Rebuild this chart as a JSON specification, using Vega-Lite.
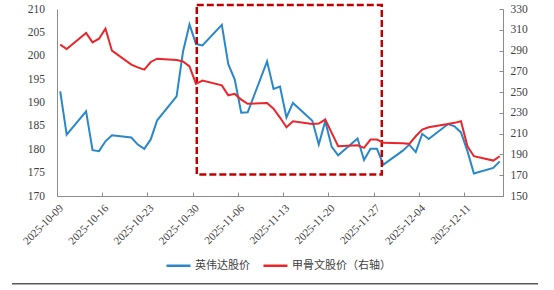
{
  "$schema": "https://vega.github.io/schema/vega-lite/v6.json",
  "width": 446,
  "height": 187,
  "autosize": {"type": "none"},
  "padding": {"left": 57, "top": 9, "right": 51, "bottom": 94},
  "config": {
    "view": {"stroke": null},
    "font": "Liberation Serif",
    "axis": {"grid": false, "domainColor": "#8c8c8c", "tickColor": "#8c8c8c", "labelColor": "#404040", "labelFont": "Liberation Serif", "labelFontSize": 11.5, "title": null, "labelOverlap": false}
  },
  "datasets": {
    "prices": [
      {"date": "2025-10-09", "nvda": 192.4, "orcl": 295.7},
      {"date": "2025-10-10", "nvda": 183.1, "orcl": 291.5},
      {"date": "2025-10-13", "nvda": 188.1, "orcl": 306.9},
      {"date": "2025-10-14", "nvda": 179.8, "orcl": 297.9},
      {"date": "2025-10-15", "nvda": 179.6, "orcl": 301.4},
      {"date": "2025-10-16", "nvda": 181.7, "orcl": 311.1},
      {"date": "2025-10-17", "nvda": 183.0, "orcl": 289.9},
      {"date": "2025-10-20", "nvda": 182.5, "orcl": 276.5},
      {"date": "2025-10-21", "nvda": 181.0, "orcl": 273.8},
      {"date": "2025-10-22", "nvda": 180.1, "orcl": 271.6},
      {"date": "2025-10-23", "nvda": 182.1, "orcl": 279.0},
      {"date": "2025-10-24", "nvda": 186.2, "orcl": 282.2},
      {"date": "2025-10-27", "nvda": 191.3, "orcl": 280.8},
      {"date": "2025-10-28", "nvda": 200.9, "orcl": 279.5},
      {"date": "2025-10-29", "nvda": 206.7, "orcl": 274.8},
      {"date": "2025-10-30", "nvda": 202.5, "orcl": 257.9},
      {"date": "2025-10-31", "nvda": 202.2, "orcl": 261.1},
      {"date": "2025-11-03", "nvda": 206.6, "orcl": 256.5},
      {"date": "2025-11-04", "nvda": 198.2, "orcl": 246.9},
      {"date": "2025-11-05", "nvda": 194.9, "orcl": 248.3},
      {"date": "2025-11-06", "nvda": 187.8, "orcl": 242.8},
      {"date": "2025-11-07", "nvda": 187.9, "orcl": 238.7},
      {"date": "2025-11-10", "nvda": 198.8, "orcl": 239.6},
      {"date": "2025-11-11", "nvda": 192.9, "orcl": 234.1},
      {"date": "2025-11-12", "nvda": 193.4, "orcl": 225.5},
      {"date": "2025-11-13", "nvda": 186.8, "orcl": 216.2},
      {"date": "2025-11-14", "nvda": 189.9, "orcl": 221.9},
      {"date": "2025-11-17", "nvda": 186.1, "orcl": 219.4},
      {"date": "2025-11-18", "nvda": 181.0, "orcl": 219.7},
      {"date": "2025-11-19", "nvda": 186.0, "orcl": 223.6},
      {"date": "2025-11-20", "nvda": 180.5, "orcl": 210.8},
      {"date": "2025-11-21", "nvda": 178.7, "orcl": 197.9},
      {"date": "2025-11-24", "nvda": 182.3, "orcl": 198.8},
      {"date": "2025-11-25", "nvda": 177.7, "orcl": 196.3},
      {"date": "2025-11-26", "nvda": 180.1, "orcl": 204.3},
      {"date": "2025-11-27", "nvda": 180.1, "orcl": 204.3},
      {"date": "2025-11-28", "nvda": 176.7, "orcl": 201.2},
      {"date": "2025-12-01", "nvda": 179.7, "orcl": 200.8},
      {"date": "2025-12-02", "nvda": 181.0, "orcl": 200.2},
      {"date": "2025-12-03", "nvda": 179.4, "orcl": 207.5},
      {"date": "2025-12-04", "nvda": 183.3, "orcl": 213.9},
      {"date": "2025-12-05", "nvda": 182.2, "orcl": 216.2},
      {"date": "2025-12-08", "nvda": 185.4, "orcl": 219.4},
      {"date": "2025-12-09", "nvda": 184.9, "orcl": 220.4},
      {"date": "2025-12-10", "nvda": 183.6, "orcl": 221.9},
      {"date": "2025-12-11", "nvda": 179.6, "orcl": 197.9},
      {"date": "2025-12-12", "nvda": 174.8, "orcl": 188.3},
      {"date": "2025-12-15", "nvda": 176.0, "orcl": 184.1},
      {"date": "2025-12-16", "nvda": 177.4, "orcl": 188.3}
    ],
    "box": [{"start": "2025-10-30T15:00:00Z", "end": "2025-11-28T06:00:00Z", "top": 210.86, "bottom": 174.6}],
    "sep": [{"from": "2025-10-02T01:00:00Z", "to": "2025-12-22T10:00:00Z", "level": 151.24}]
  },
  "layer": [
    {
      "layer": [
        {
          "data": {"name": "prices"},
          "mark": {"type": "line", "strokeWidth": 2},
          "encoding": {
            "x": {
              "field": "date", "type": "temporal", "timeUnit": "utcyearmonthdate", "bandPosition": 0.5,
              "scale": {"type": "utc", "domain": [{"year": 2025, "month": 10, "date": 9, "utc": true}, {"year": 2025, "month": 12, "date": 17, "utc": true}]},
              "axis": {
                "values": [
                  {"year": 2025, "month": 10, "date": 9, "utc": true},
                  {"year": 2025, "month": 10, "date": 16, "utc": true},
                  {"year": 2025, "month": 10, "date": 23, "utc": true},
                  {"year": 2025, "month": 10, "date": 30, "utc": true},
                  {"year": 2025, "month": 11, "date": 6, "utc": true},
                  {"year": 2025, "month": 11, "date": 13, "utc": true},
                  {"year": 2025, "month": 11, "date": 20, "utc": true},
                  {"year": 2025, "month": 11, "date": 27, "utc": true},
                  {"year": 2025, "month": 12, "date": 4, "utc": true},
                  {"year": 2025, "month": 12, "date": 11, "utc": true}
                ],
                "labelExpr": "utcFormat(datum.value, '%Y-%m-%d')", "labelAngle": -45, "labelOverlap": false,
                "labelFont": "Liberation Serif", "tickSize": -4, "labelPadding": 10, "labelFontSize": 11
              }
            },
            "y": {
              "field": "nvda", "type": "quantitative",
              "scale": {"domain": [170, 210], "zero": false, "nice": false},
              "axis": {"values": [170, 175, 180, 185, 190, 195, 200, 205, 210], "ticks": false, "labelPadding": 12.5, "labelFont": "Liberation Serif", "labelOverlap": false}
            },
            "color": {
              "datum": "英伟达股价", "type": "nominal",
              "scale": {"domain": ["英伟达股价", "甲骨文股价（右轴）"], "range": ["#2a87c8", "#e8262b"]},
              "legend": {
                "orient": "none", "legendX": 108, "legendY": 243, "direction": "horizontal", "title": null,
                "symbolType": "stroke", "symbolSize": 576, "symbolStrokeWidth": 2.5,
                "labelFont": "Noto Sans CJK SC", "labelFontSize": 11, "labelColor": "#404040",
                "labelOffset": 3, "columnPadding": 8, "labelLimit": 0
              }
            }
          }
        },
        {
          "data": {"name": "box"},
          "mark": {"type": "rect", "filled": false, "stroke": "#c00000", "strokeWidth": 2.5, "strokeDash": [7, 3]},
          "encoding": {
            "x": {"field": "start", "type": "temporal"},
            "x2": {"field": "end"},
            "y": {"field": "top", "type": "quantitative", "axis": {"values": [170, 175, 180, 185, 190, 195, 200, 205, 210], "ticks": false, "labelPadding": 12.5, "labelFont": "Liberation Serif", "labelOverlap": false}},
            "y2": {"field": "bottom"}
          }
        },
        {
          "data": {"name": "sep"},
          "mark": {"type": "rule", "stroke": "#595959", "strokeWidth": 1.5},
          "encoding": {
            "x": {"field": "from", "type": "temporal"},
            "x2": {"field": "to"},
            "y": {"field": "level", "type": "quantitative", "axis": {"values": [170, 175, 180, 185, 190, 195, 200, 205, 210], "ticks": false, "labelPadding": 12.5, "labelFont": "Liberation Serif", "labelOverlap": false}}
          }
        }
      ]
    },
    {
      "data": {"name": "prices"},
      "mark": {"type": "line", "strokeWidth": 2},
      "encoding": {
        "x": {"field": "date", "type": "temporal", "timeUnit": "utcyearmonthdate", "bandPosition": 0.5},
        "y": {
          "field": "orcl", "type": "quantitative",
          "scale": {"domain": [150, 330], "zero": false, "nice": false},
          "axis": {"orient": "right", "values": [150, 170, 190, 210, 230, 250, 270, 290, 310, 330], "tickSize": -4, "labelPadding": 11, "labelFont": "Liberation Serif", "labelOverlap": false}
        },
        "color": {"datum": "甲骨文股价（右轴）", "type": "nominal"}
      }
    }
  ],
  "resolve": {"scale": {"y": "independent"}}
}
